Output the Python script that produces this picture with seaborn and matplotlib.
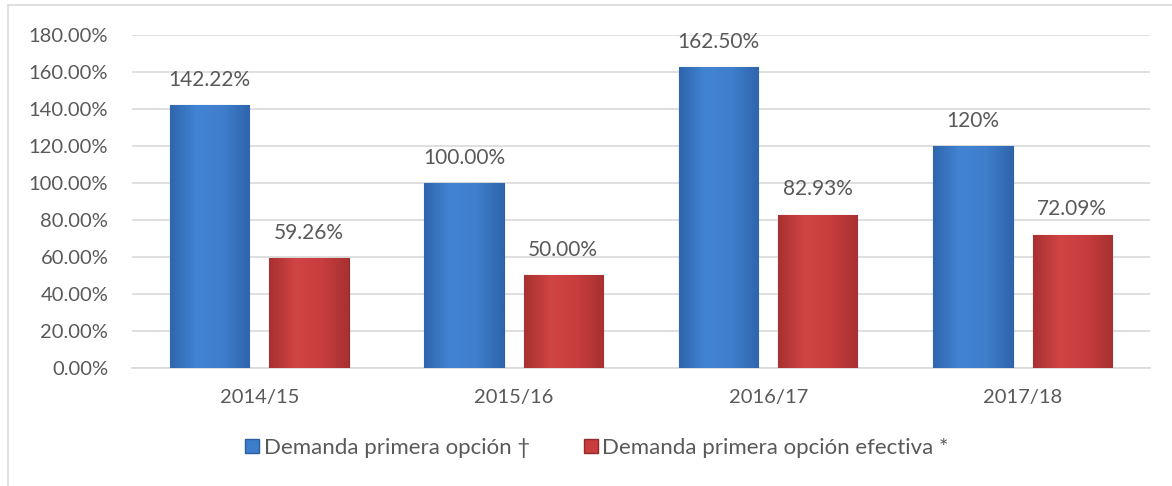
import numpy as np
import pandas as pd
import matplotlib.pyplot as plt
import seaborn as sns
from matplotlib.colors import LinearSegmentedColormap
from matplotlib.lines import Line2D

# Data
years = ["2014/15", "2015/16", "2016/17", "2017/18"]
demanda = [142.22, 100.00, 162.50, 120.00]
demanda_efectiva = [59.26, 50.00, 82.93, 72.09]
labels_demanda = ["142.22%", "100.00%", "162.50%", "120%"]
labels_efectiva = ["59.26%", "50.00%", "82.93%", "72.09%"]
series = ["Demanda primera opción \u2020", "Demanda primera opción efectiva *"]

df = pd.DataFrame({
    "year": years * 2,
    "value": demanda + demanda_efectiva,
    "serie": [series[0]] * 4 + [series[1]] * 4,
})

blue = "#3e7dcb"
red = "#c83d3d"
text_col = "#595959"

sns.set_theme(style="white")
plt.rcParams["font.family"] = ["Lato", "DejaVu Sans"]

fig = plt.figure(figsize=(11.72, 4.86), dpi=100)
ax = fig.add_axes([0.1126, 0.2428, 0.8685, 0.6852])

sns.barplot(data=df, x="year", y="value", hue="serie", palette=[blue, red],
            saturation=1, width=0.78, gap=0.2, ax=ax, legend=False, zorder=3)

edge = {0: "#2c5f9e", 1: "#922a2a"}
shade = {
    0: LinearSegmentedColormap.from_list("b", ["#2f66ad", "#4284d4", "#3f7ecb", "#2f66ad"]),
    1: LinearSegmentedColormap.from_list("r", ["#a83131", "#d04444", "#c83d3d", "#a83131"]),
}
grad = np.linspace(0, 1, 64).reshape(1, -1)
for i, cont in enumerate(ax.containers):
    for bar in cont:
        bar.set_edgecolor(edge[i])
        bar.set_linewidth(0.8)
        x0, w, h = bar.get_x(), bar.get_width(), bar.get_height()
        im = ax.imshow(grad, cmap=shade[i], extent=[x0, x0 + w, 0, h],
                       aspect="auto", zorder=3.5)
        im.set_clip_path(bar)
    lbls = labels_demanda if i == 0 else labels_efectiva
    ax.bar_label(cont, labels=lbls, padding=11, fontsize=15, color=text_col)

ax.set_ylim(0, 180)
ax.set_yticks(range(0, 181, 20))
ax.set_yticklabels([f"{t:.2f}%" for t in range(0, 181, 20)])
ax.set_xlim(-0.5, 3.5)
ax.grid(axis="y", color="#d9d9d9", linewidth=1.2, zorder=0)
ax.set_xlabel("")
ax.set_ylabel("")
for s in ["top", "right", "left"]:
    ax.spines[s].set_visible(False)
ax.spines["bottom"].set_color("#d9d9d9")
ax.spines["bottom"].set_linewidth(1.2)
ax.tick_params(axis="both", length=0, labelsize=14.5, labelcolor=text_col)
ax.tick_params(axis="y", pad=17)
ax.tick_params(axis="x", pad=15)

handles = [Line2D([], [], marker="s", linestyle="", markersize=10.5,
                  markerfacecolor=c, markeredgecolor=e)
           for c, e in [(blue, edge[0]), (red, edge[1])]]
fig.legend(handles, series, loc="center", bbox_to_anchor=(0.509, 0.078),
           ncol=2, frameon=False, fontsize=16, labelcolor=text_col,
           handletextpad=0.15, columnspacing=2.4, handlelength=0.7)

# outer chart frame (top and left edges visible)
fig.add_artist(Line2D([8 / 1172, 1.0], [1 - 5 / 486, 1 - 5 / 486],
                      transform=fig.transFigure, color="#d9d9d9", linewidth=1.2))
fig.add_artist(Line2D([8 / 1172, 8 / 1172], [0.0, 1 - 5 / 486],
                      transform=fig.transFigure, color="#d9d9d9", linewidth=1.2))

fig.savefig("out.png", dpi=100)
